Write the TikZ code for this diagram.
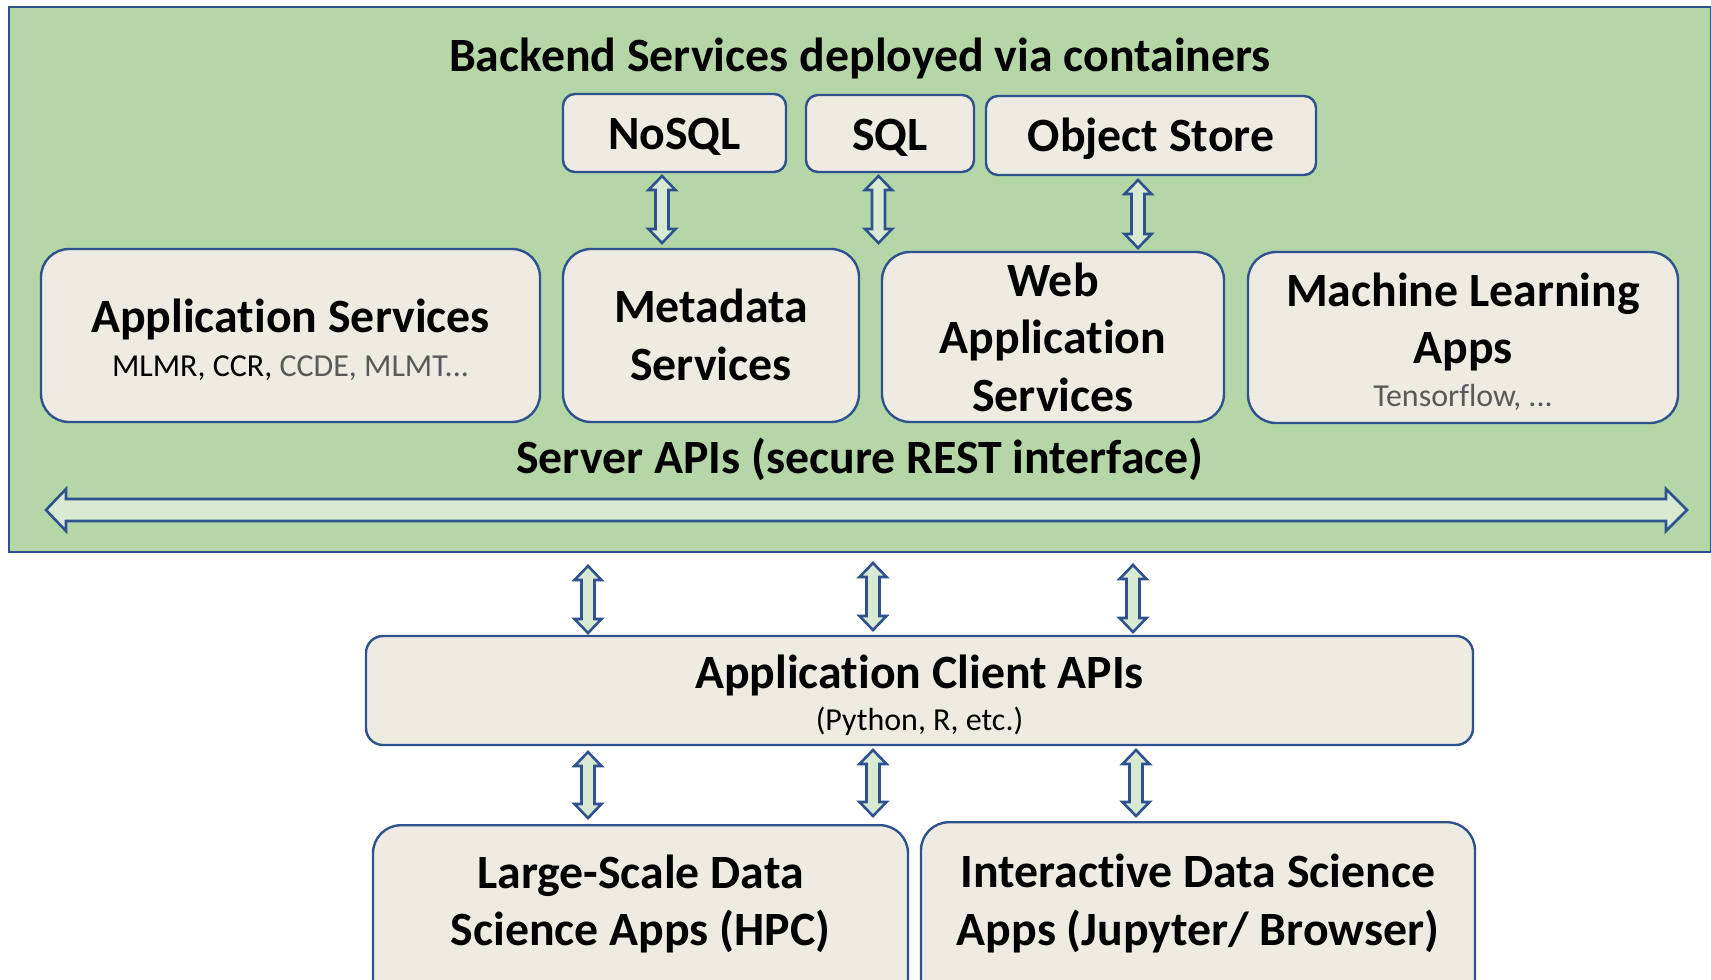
\documentclass[tikz,border=0pt]{standalone}
\usepackage{fontspec}
\setmainfont{Carlito}[Ligatures=NoCommon]
\definecolor{bgreen}{RGB}{181,215,168}
\definecolor{agreen}{RGB}{217,234,211}
\definecolor{boxfill}{RGB}{238,236,226}
\definecolor{bblue}{RGB}{47,82,143}
\definecolor{subgray}{RGB}{89,89,89}
\newcommand{\vdarrow}[3]{%
  \draw[arr] ({#1-6.5},{#2+14}) -- ({#1-13.5},{#2+14}) -- (#1,#2) -- ({#1+13.5},{#2+14}) -- ({#1+6.5},{#2+14})
    -- ({#1+6.5},{#3-14}) -- ({#1+13.5},{#3-14}) -- (#1,#3) -- ({#1-13.5},{#3-14}) -- ({#1-6.5},{#3-14}) -- cycle;}
\newcommand{\tI}{t\kern0pt i}
\begin{document}
\begin{tikzpicture}[x=1pt,y=-1pt,
  box/.style={draw=bblue, line width=2.4pt, fill=boxfill, inner sep=0pt},
  arr/.style={draw=bblue, line width=2.6pt, fill=agreen, line join=miter},
  big/.style={font=\fontsize{47.8}{56}\selectfont\bfseries, inner sep=0pt, anchor=base},
  small/.style={font=\fontsize{32}{38}\selectfont, inner sep=0pt, anchor=base}]
\useasboundingbox (0,0) rectangle (1711,980);
\clip (0,0) rectangle (1711,980);
\fill[white] (0,0) rectangle (1711,980);
% backend container
\node[draw=bblue, line width=2pt, fill=bgreen, minimum width=1702pt, minimum height=545pt, anchor=north west, inner sep=0pt] (backend) at (8,6) {};
\node[big] (ttitle) at (860,71) {Backend Services deployed via containers};
% storage
\node[box, rounded corners=12pt, minimum width=223pt, minimum height=78pt] (nosql) at (674.5,133) {};
\node[big] at (nosql.center |- 0,149) (tnosql) {NoSQL};
\node[box, rounded corners=12pt, minimum width=168pt, minimum height=77pt] (sql) at (890,133.5) {};
\node[big] at (sql.center |- 0,150) (tsql) {SQL};
\node[box, rounded corners=12pt, minimum width=330pt, minimum height=79pt] (obj) at (1151,135.5) {};
\node[big] at (obj.center |- 0,151) (tobj) {Object Store};
% services
\node[box, rounded corners=28pt, minimum width=499pt, minimum height=173pt] (app) at (290.5,335.5) {};
\node[big] at (app.center |- 0,332) (tapp) {Applica\tI on Services};
\node[small] at (app.center |- 0,376) (sapp) {MLMR, CCR, \textcolor{subgray}{CCDE, MLMT...}};
\node[box, rounded corners=28pt, minimum width=296pt, minimum height=173pt] (meta) at (711,335.5) {};
\node[big] at (meta.center |- 0,322) (tmeta1) {Metadata};
\node[big] at (meta.center |- 0,380) (tmeta2) {Services};
\node[box, rounded corners=28pt, minimum width=342pt, minimum height=170pt] (web) at (1053,337) {};
\node[big] at (web.center |- 0,296) (tweb1) {Web};
\node[big] at (web.center |- 0,353) (tweb2) {Applica\tI on};
\node[big] at (web.center |- 0,411) (tweb3) {Services};
\node[box, rounded corners=28pt, minimum width=430pt, minimum height=171pt] (ml) at (1463,337.5) {};
\node[big] at (ml.center |- 0,306) (tml1) {Machine Learning};
\node[big] at (ml.center |- 0,363) (tml2) {Apps};
\node[small, text=subgray] at (ml.center |- 0,406) (sml) {Tensorflow, ...};
\node[big] (tserver) at (860,473) {Server APIs (secure REST interface)};
% long double arrow
\draw[arr] (66,499) -- (66,489) -- (46,510) -- (66,531) -- (66,521) -- (1666,521) -- (1666,531) -- (1687,510) -- (1666,489) -- (1666,499) -- cycle;
% small arrows inside
\vdarrow{662}{176}{243}
\vdarrow{878.5}{176}{243}
\vdarrow{1138}{180}{248}
% client APIs
\node[box, rounded corners=17pt, minimum width=1107pt, minimum height=109pt] (client) at (919.5,690.5) {};
\node[big] at (client.center |- 0,688) (tclient) {Applica\tI on Client APIs};
\node[small] at (client.center |- 0,730) (sclient) {(Python, R, etc.)};
\vdarrow{588}{566}{633}
\vdarrow{873}{563}{630}
\vdarrow{1133}{565}{632}
\vdarrow{588}{752}{818}
\vdarrow{873}{750}{816}
\vdarrow{1136}{750}{816}
% bottom apps
\node[box, rounded corners=28pt, minimum width=535pt, minimum height=200pt, anchor=north] (hpc) at (640.5,824) {};
\node[big] at (hpc.center |- 0,888) (thpc1) {Large-Scale Data};
\node[big] at (hpc.center |- 0,945) (thpc2) {Science Apps (HPC)};
\node[box, rounded corners=28pt, minimum width=554pt, minimum height=200pt, anchor=north] (inter) at (1198,821) {};
\node[big] at (inter.center |- 0,887) (tint1) {Interac\tI ve Data Science};
\node[big] at (inter.center |- 0,945) (tint2) {Apps (Jupyter/ Browser)};
\end{tikzpicture}
\end{document}
